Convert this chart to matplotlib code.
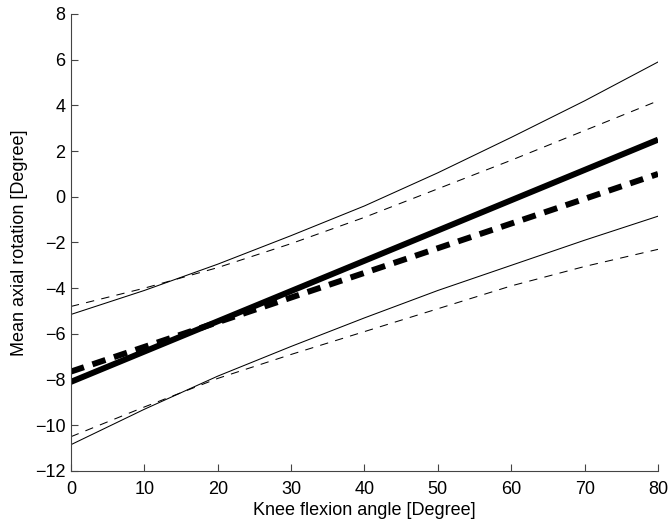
import matplotlib
matplotlib.use('Agg')
import matplotlib.pyplot as plt
import numpy as np

# Knee flexion angles
angle = [0, 10, 20, 30, 40, 50, 60, 70, 80]

# mean curves (thick)
mean_solid = [-8.1, -6.775, -5.45, -4.125, -2.8, -1.475, -0.15, 1.175, 2.5]
mean_dashed = [-7.65, -6.57, -5.49, -4.41, -3.33, -2.25, -1.17, -0.09, 1.0]

# bounds (thin)
upper_solid = [-5.15, -4.1, -2.95, -1.7, -0.4, 1.05, 2.6, 4.2, 5.9]
lower_solid = [-10.85, -9.3, -7.85, -6.55, -5.3, -4.1, -3.0, -1.9, -0.85]
upper_dashed = [-4.8, -4.0, -3.1, -2.05, -0.9, 0.35, 1.6, 2.9, 4.2]
lower_dashed = [-10.5, -9.2, -7.95, -6.9, -5.9, -4.9, -3.9, -3.05, -2.3]

plt.rcParams['font.family'] = ['Liberation Sans', 'DejaVu Sans']

fig = plt.figure(figsize=(6.69, 5.28), dpi=100)
ax = fig.add_axes([0.106, 0.108, 0.8776, 0.8655])

thin = 0.75
ax.plot(angle, upper_solid, color='black', linewidth=thin)
ax.plot(angle, lower_solid, color='black', linewidth=thin)
ax.plot(angle, upper_dashed, color='black', linewidth=thin, linestyle=(0, (8, 7)))
ax.plot(angle, lower_dashed, color='black', linewidth=thin, linestyle=(0, (8, 7)))
ax.plot(angle, mean_solid, color='black', linewidth=4.3, solid_capstyle='butt')
ax.plot(angle, mean_dashed, color='black', linewidth=4.3, linestyle=(0, (2.3, 1.5)))

ax.set_xlim(0, 80)
ax.set_ylim(-12, 8)
ax.set_xticks(range(0, 81, 10))
ax.set_yticks(range(-12, 9, 2))
ax.set_yticklabels([str(v).replace('-', '\u2212') for v in range(-12, 9, 2)])

ax.spines['top'].set_visible(False)
ax.spines['right'].set_visible(False)
for s in ['left', 'bottom']:
    ax.spines[s].set_color('#444444')
    ax.spines[s].set_linewidth(0.8)
ax.tick_params(direction='in', length=5, width=0.8, color='#444444', labelsize=13)
ax.tick_params(axis='x', pad=7)
ax.tick_params(axis='y', pad=4)

ax.set_xlabel('Knee flexion angle [Degree]', fontsize=13, labelpad=3)
ax.set_ylabel('Mean axial rotation [Degree]', fontsize=13, labelpad=5)

fig.savefig('out.png', dpi=100)
